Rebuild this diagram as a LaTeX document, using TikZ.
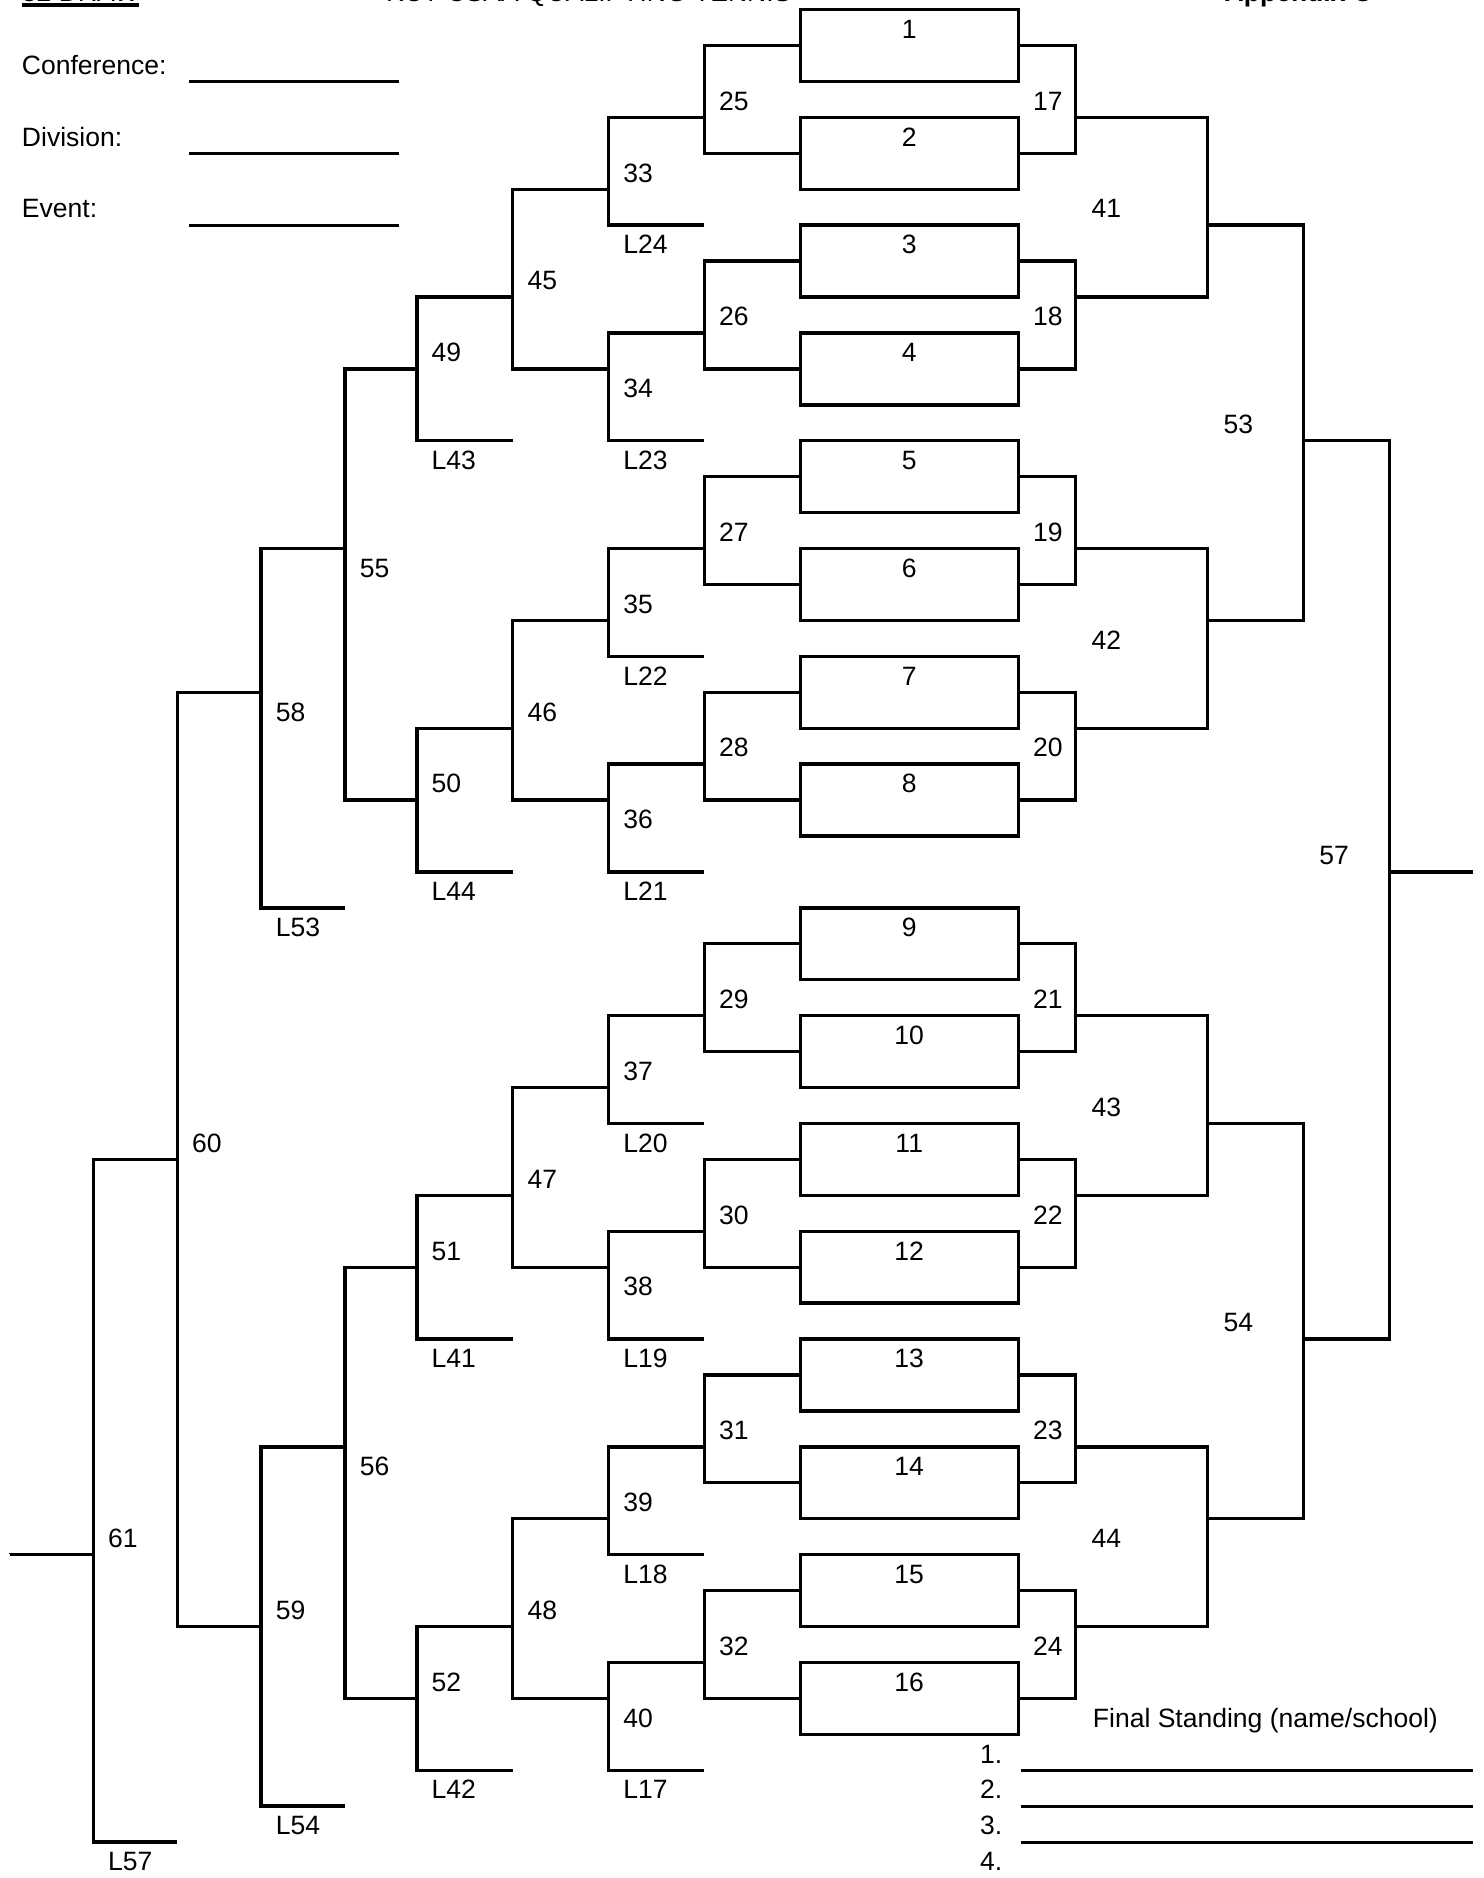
\documentclass[tikz,border=0pt]{standalone}
\usepackage{fontspec}
\setmainfont{Liberation Sans}
\usetikzlibrary{calc}
\tikzstyle{slot} = [rectangle, draw=black, line width=1.6pt, minimum width=3.64cm, minimum height=1.2cm, inner sep=0pt, outer sep=0pt]
\tikzstyle{num} = [anchor=base west, inner sep=0pt, font=\fontsize{12.6}{15}\selectfont]
\tikzstyle{bar} = [line width=1.6pt, line join=miter]
\tikzstyle{rule} = [line width=1.4pt]
\newcommand{\bracket}[4]{\draw [bar] (#2,#3) -- (#1,#3) -- (#1,#4) -- (#2,#4);}

\begin{document}
\begin{tikzpicture}[x=0.02cm, y=-0.6cm]
\useasboundingbox (0,-0.267) rectangle (1238,52);
\clip (0,-0.267) rectangle (1238,52);

% header
\node (drawno) [num] at (18,-0.22) {32 DRAW};
\draw [bar] ($(drawno.base west)+(0,0.09)$) -- ($(drawno.base east)+(0,0.09)$);
\node (title) [num] at (322,-0.22) {KCT CSAA QUALIFYING TENNIS};
\node (appx) [num, font=\fontsize{12.6}{15}\selectfont\bfseries] at (1022,-0.22) {Appendix C};
\node (conf) [num] at (18,1.8) {Conference:};
\node (div) [num] at (18,3.8) {Division:};
\node (event) [num] at (18,5.8) {Event:};
\foreach \r in {2,4,6}
  \draw [rule] (158,\r) -- (333,\r);

% first round slots
\foreach \k in {1,...,16} {
  \pgfmathtruncatemacro{\t}{3*(\k-1)+(\k>8)}
  \node (b\k) [slot] at (759,\t+1) {};
  \node (n\k) [num, anchor=base] at (759,\t+0.8) {\k};
}
\foreach \i in {1,...,8} {
  \pgfmathtruncatemacro{\u}{2*\i-1}
  \pgfmathtruncatemacro{\v}{2*\i}
  \draw [bar] (b\u.west) -- ++(-80,0) |- (b\v.west);
  \draw [bar] (b\u.east) -- ++(48,0) |- (b\v.east);
}

% left side
\foreach \a/\b in {3/6,9/12,15/18,21/24,28/31,34/37,40/43,46/49}
  \bracket{508}{588}{\a}{\b}
\foreach \a/\b in {5/10,17/22,30/35,42/47}
  \bracket{428}{508}{\a}{\b}
\foreach \a/\b in {8/12,20/24,33/37,45/49}
  \bracket{348}{428}{\a}{\b}
\foreach \a/\b in {10/22,35/47}
  \bracket{288}{348}{\a}{\b}
\foreach \a/\b in {15/25,40/50}
  \bracket{218}{288}{\a}{\b}
\bracket{148}{218}{19}{45}
\bracket{78}{148}{32}{51}
\draw [bar] (8,43) -- (78,43);

% right side
\foreach \a/\b in {3/8,15/20,28/33,40/45}
  \bracket{1008}{898}{\a}{\b}
\foreach \a/\b in {6/17,31/42}
  \bracket{1088}{1008}{\a}{\b}
\bracket{1160}{1088}{12}{37}
\draw [bar] (1160,24) -- (1230,24);

% match numbers
\foreach \txt/\x/\k in {25/600/2, 26/600/8, 27/600/14, 28/600/20, 29/600/27, 30/600/33, 31/600/39, 32/600/45,
    17/862/2, 18/862/8, 19/862/14, 20/862/20, 21/862/27, 22/862/33, 23/862/39, 24/862/45,
    33/520/4, 34/520/10, 35/520/16, 36/520/22, 37/520/29, 38/520/35, 39/520/41, 40/520/47,
    L24/520/6, L23/520/12, L22/520/18, L21/520/24, L20/520/31, L19/520/37, L18/520/43, L17/520/49,
    45/440/7, 46/440/19, 47/440/32, 48/440/44,
    49/360/9, 50/360/21, 51/360/34, 52/360/46, L43/360/12, L44/360/24, L41/360/37, L42/360/49,
    55/300/15, 56/300/40, 58/230/19, 59/230/44, L53/230/25, L54/230/50,
    60/160/31, 61/90/42, L57/90/51,
    41/911/5, 42/911/17, 43/911/30, 44/911/42, 53/1021/11, 54/1021/36, 57/1101/23}
  \node (m\txt) [num] at (\x,\k+0.8) {\txt};

% final standing
\node (stand) [num] at (912,47.8) {Final Standing (name/school)};
\foreach \p in {1,...,4}
  \node (p\p) [num, anchor=base east] at (837,47.8+\p) {\p.};
\foreach \r in {49,50,51}
  \draw [rule] (852,\r) -- (1230,\r);
\end{tikzpicture}
\end{document}
